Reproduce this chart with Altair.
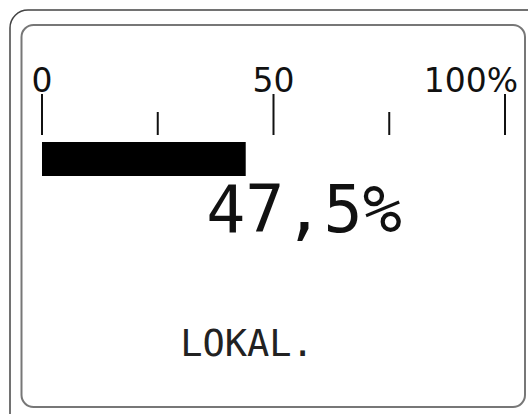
import altair as alt
import pandas as pd

# ---- data ----
major_ticks = [0, 50, 100]
minor_ticks = [25, 75]
label_values = [0, 50]
label_texts = ["0", "50"]
end_label_value = [100]
end_label_text = ["100%"]
bar_level = [44]          # length of the drawn bar on the 0-100 scale
reading_text = ["47,5%"]
mode_text = ["LOKAL."]

X = alt.Scale(domain=[0, 100], range=[42, 505])
one = pd.DataFrame({"k": [0]})

outer = alt.Chart(one).mark_rect(
    cornerRadius=18, fill="transparent", stroke="#444444", strokeWidth=1.5
).encode(x=alt.value(10), x2=alt.value(545), y=alt.value(10), y2=alt.value(435))

inner = alt.Chart(one).mark_rect(
    cornerRadius=12, fill="transparent", stroke="#777777", strokeWidth=2
).encode(x=alt.value(21.5), x2=alt.value(525), y=alt.value(25), y2=alt.value(407))

major = alt.Chart(pd.DataFrame({"v": major_ticks})).mark_rule(
    color="#111111", strokeWidth=2
).encode(x=alt.X("v:Q", scale=X, axis=None), y=alt.value(94), y2=alt.value(135))

minor = alt.Chart(pd.DataFrame({"v": minor_ticks})).mark_rule(
    color="#111111", strokeWidth=2
).encode(x=alt.X("v:Q", scale=X, axis=None), y=alt.value(112), y2=alt.value(135))

labels = alt.Chart(pd.DataFrame({"v": label_values, "t": label_texts})).mark_text(
    font="DejaVu Sans", fontSize=33, color="#111111", align="center", baseline="alphabetic"
).encode(x=alt.X("v:Q", scale=X, axis=None), y=alt.value(92), text="t:N")

end_label = alt.Chart(pd.DataFrame({"v": end_label_value, "t": end_label_text})).mark_text(
    font="DejaVu Sans", fontSize=33, color="#111111", align="right", baseline="alphabetic", dx=13
).encode(x=alt.X("v:Q", scale=X, axis=None), y=alt.value(92), text="t:N")

bar = alt.Chart(pd.DataFrame({"start": [0], "level": bar_level})).mark_rect(
    color="#000000"
).encode(
    x=alt.X("start:Q", scale=X, axis=None), x2="level:Q",
    y=alt.value(142), y2=alt.value(176)
)

reading = alt.Chart(pd.DataFrame({"t": reading_text})).mark_text(
    font="DejaVu Sans Mono", fontSize=65, color="#111111", align="center", baseline="alphabetic"
).encode(x=alt.value(304), y=alt.value(232), text="t:N")

mode = alt.Chart(pd.DataFrame({"t": mode_text})).mark_text(
    font="DejaVu Sans Mono", fontSize=37, color="#222222", align="center", baseline="alphabetic"
).encode(x=alt.value(247), y=alt.value(356), text="t:N")

chart = alt.layer(
    outer, inner, major, minor, labels, end_label, bar, reading, mode
).properties(
    width=528, height=414,
    autosize=alt.AutoSizeParams(type="none"),
    padding=0, background="white"
).configure_view(stroke=None)

chart.save("out.html", embed_options={"renderer": "svg", "actions": False})
